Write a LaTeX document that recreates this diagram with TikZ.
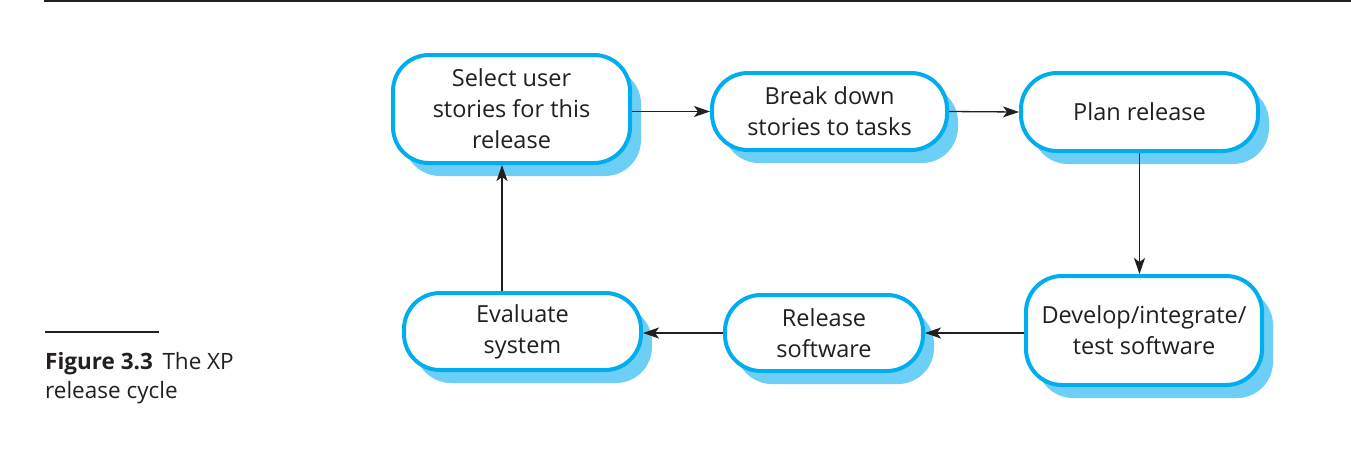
\documentclass[tikz,border=0pt]{standalone}
\usepackage{fontspec}
\setmainfont{Open Sans}
\usetikzlibrary{arrows.meta,calc}
\definecolor{boxblue}{HTML}{00AEEF}
\definecolor{shadowblue}{HTML}{6DCFF6}
\definecolor{ink}{HTML}{231F20}
\begin{document}
\begin{tikzpicture}[x=1pt,y=-1pt,
  stage/.style={draw=boxblue, line width=4pt, fill=white, rounded corners=36pt,
    align=center, inner sep=0pt, text=ink,
    font=\fontsize{23.5}{31}\selectfont,
    preaction={draw=none, fill=shadowblue, transform canvas={shift={(11pt,-13pt)}}}},
  flow/.style={draw=ink, line width=1.3pt, -{Stealth[length=16pt,width=11pt,inset=4pt]}}]
\useasboundingbox (0,0) rectangle (1351,448);
\draw[line width=2pt, ink] (44,1) -- (1351,1);
\node[stage, minimum width=237pt, minimum height=108pt] (b1) at (511.5,109) {Select user\\stories for this\\release};
\node[stage, minimum width=235pt, minimum height=77pt] (b2) at (829.5,111.5) {Break down\\stories to tasks};
\node[stage, minimum width=237pt, minimum height=78pt] (b3) at (1139.5,112) {Plan release};
\node[stage, minimum width=236pt, minimum height=109pt] (b4) at (1144,330.5) {Develop/integrate/\\test software};
\node[stage, minimum width=198pt, minimum height=76pt] (b5) at (824,333) {Release\\software};
\node[stage, minimum width=237pt, minimum height=77pt] (b6) at (522.5,331.5) {Evaluate\\system};
\draw[flow] (b1.east |- b2.west) -- (b2.west);
\draw[flow] (b2.east) -- (b3.west);
\draw[flow] (b3.south) -- (b3.south |- b4.north);
\draw[flow] (b4.west |- b5.east) -- (b5.east);
\draw[flow] (b5.west) -- (b6.east |- b5.west);
\coordinate (up) at ($(b6.north)+(-20.5,0)$);
\draw[flow] (up) -- (up |- b1.south);
\draw[line width=1.5pt, ink] (45,332) -- (159,332);
\node[anchor=base west, inner sep=0pt, text=ink, font=\fontsize{22.5}{29}\selectfont, align=left] (cap) at (45,398)
  {\textbf{Figure 3.3}\ \,The XP\\release cycle};
\end{tikzpicture}
\end{document}
